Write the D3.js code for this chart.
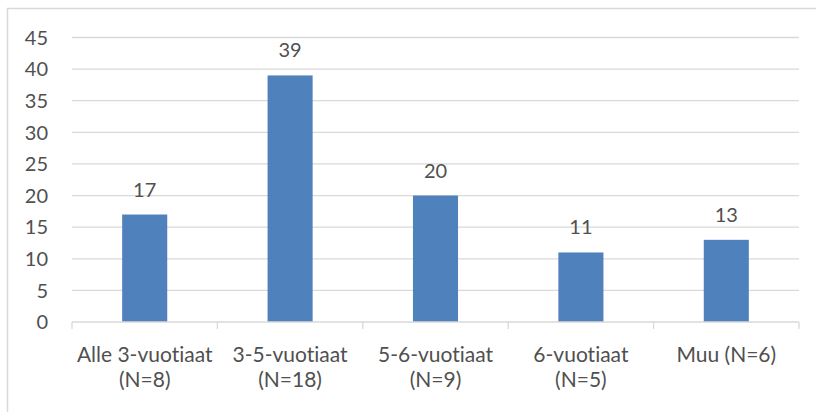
<!DOCTYPE html>
<html>
<head>
<meta charset="utf-8">
<script src="https://cdn.jsdelivr.net/npm/d3@7"></script>
<style>
  body { margin: 0; background: #fff; }
  svg text { font-family: Lato, "Open Sans", sans-serif; fill: #505050; font-size: 20px; font-variant-ligatures: none; }
  svg text.xlab { font-size: 21px; }
</style>
</head>
<body>
<div id="chart"></div>
<script>
// chart data
var categories = ["Alle 3-vuotiaat|(N=8)", "3-5-vuotiaat|(N=18)", "5-6-vuotiaat|(N=9)", "6-vuotiaat|(N=5)", "Muu (N=6)"];
var values = [17, 39, 20, 11, 13];
var yTicks = [0, 5, 10, 15, 20, 25, 30, 35, 40, 45];

var W = 816, H = 412;
var margin = {top: 37.5, right: 17, bottom: 90, left: 72},
    width = W - margin.left - margin.right,
    height = H - margin.top - margin.bottom;

var root = d3.select("#chart").append("svg")
    .attr("width", W)
    .attr("height", H);

// outer chart frame
root.append("rect")
    .attr("x", 7.5).attr("y", 8.5)
    .attr("width", W).attr("height", H)
    .attr("fill", "none")
    .attr("stroke", "#d9d9d9")
    .attr("stroke-width", 1.5);

var svg = root.append("g")
    .attr("transform", "translate(" + margin.left + "," + margin.top + ")");

var x = d3.scaleBand().domain(categories).range([0, width]).paddingInner(0.69).paddingOuter(0.345);
var xb = d3.scaleBand().domain(categories).range([0, width]);
var y = d3.scaleLinear().domain([0, 45]).range([height, 0]);

// gridlines
svg.selectAll(".grid").data(yTicks.filter(d => d > 0)).enter().append("line")
    .attr("x1", 0).attr("x2", width)
    .attr("y1", d => y(d)).attr("y2", d => y(d))
    .attr("stroke", "#d9d9d9").attr("stroke-width", 1.3);

// y tick labels
svg.selectAll(".ylab").data(yTicks).enter().append("text")
    .attr("x", -24).attr("y", d => y(d))
    .attr("dy", "0.36em")
    .attr("text-anchor", "end")
    .text(d => d);

// bars
svg.selectAll(".bar").data(values).enter().append("rect")
    .attr("x", (d, i) => x(categories[i]))
    .attr("width", x.bandwidth())
    .attr("y", d => y(d))
    .attr("height", d => height - y(d))
    .attr("fill", "#4f81bd");

// value labels
svg.selectAll(".vlab").data(values).enter().append("text")
    .attr("x", (d, i) => x(categories[i]) + x.bandwidth() / 2)
    .attr("y", d => y(d) - 18)
    .attr("text-anchor", "middle")
    .text(d => d);

// x axis line and ticks
svg.append("line")
    .attr("x1", 0).attr("x2", width)
    .attr("y1", height).attr("y2", height)
    .attr("stroke", "#d9d9d9").attr("stroke-width", 1.3);
var tickPos = categories.map(c => xb(c)).concat([width]);
svg.selectAll(".xtick").data(tickPos).enter().append("line")
    .attr("x1", d => d).attr("x2", d => d)
    .attr("y1", height).attr("y2", height + 7)
    .attr("stroke", "#d9d9d9").attr("stroke-width", 1.3);

// category labels (two lines)
var cl = svg.selectAll(".xlab").data(categories).enter().append("text")
    .attr("class", "xlab")
    .attr("x", d => xb(d) + xb.bandwidth() / 2)
    .attr("y", height + 40)
    .attr("text-anchor", "middle");
cl.each(function(d) {
    var parts = d.split("|");
    var t = d3.select(this);
    parts.forEach(function(p, i) {
        t.append("tspan")
            .attr("x", xb(d) + xb.bandwidth() / 2)
            .attr("dy", i === 0 ? 0 : 25)
            .text(p);
    });
});
</script>
</body>
</html>
